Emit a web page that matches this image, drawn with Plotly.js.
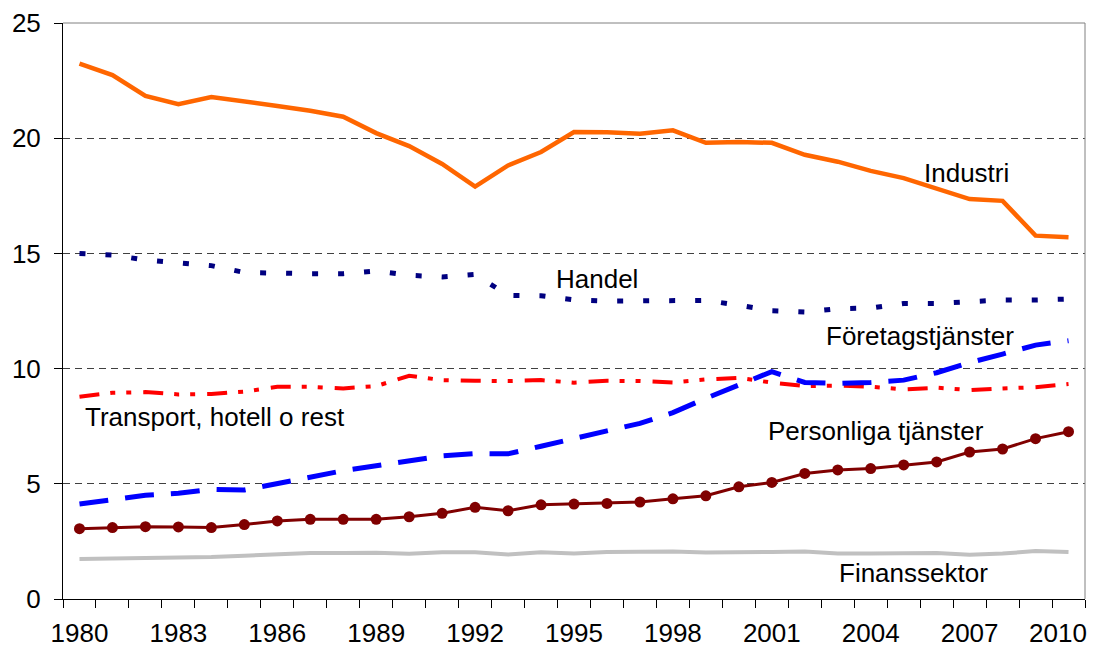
<!DOCTYPE html>
<html>
<head>
<meta charset="utf-8">
<script src="https://cdn.plot.ly/plotly-3.0.1.min.js"></script>
<style>html,body{margin:0;padding:0;background:#fff;}#chart{width:1094px;height:649px;}</style>
</head>
<body>
<div id="chart"></div>
<script>
const years = [1980,1981,1982,1983,1984,1985,1986,1987,1988,1989,1990,1991,1992,1993,1994,1995,1996,1997,1998,1999,2000,2001,2002,2003,2004,2005,2006,2007,2008,2009,2010];
const tickYears = [1980,1983,1986,1989,1992,1995,1998,2001,2004,2007,2010];
const industri = [23.24,22.74,21.84,21.48,21.79,21.61,21.40,21.19,20.93,20.22,19.66,18.88,17.90,18.82,19.40,20.27,20.26,20.19,20.34,19.80,19.83,19.80,19.28,18.98,18.58,18.27,17.79,17.36,17.28,15.77,15.70];
const handel = [15.00,14.93,14.71,14.57,14.47,14.17,14.12,14.12,14.12,14.24,14.05,13.98,14.09,13.18,13.16,12.98,12.93,12.93,12.93,12.96,12.75,12.51,12.46,12.60,12.63,12.83,12.83,12.90,12.98,12.98,13.02];
const transport = [8.78,8.95,8.98,8.88,8.90,9.00,9.21,9.21,9.14,9.24,9.69,9.50,9.47,9.46,9.50,9.39,9.47,9.46,9.40,9.53,9.60,9.39,9.24,9.26,9.21,9.10,9.17,9.07,9.14,9.19,9.33];
const foretag = [4.12,4.30,4.50,4.59,4.76,4.73,5.02,5.33,5.57,5.78,6.02,6.21,6.31,6.30,6.63,6.98,7.30,7.62,8.09,8.71,9.30,9.87,9.40,9.36,9.40,9.50,9.82,10.26,10.63,11.02,11.21];
const personliga = [3.05,3.10,3.14,3.13,3.10,3.23,3.39,3.46,3.46,3.46,3.57,3.72,3.98,3.83,4.09,4.12,4.15,4.21,4.35,4.48,4.87,5.06,5.45,5.60,5.66,5.82,5.95,6.38,6.51,6.96,7.26];
const finans = [1.74,1.76,1.77,1.79,1.82,1.88,1.96,2.00,2.00,2.01,1.96,2.03,2.03,1.93,2.03,1.98,2.04,2.06,2.06,2.02,2.05,2.04,2.06,1.97,1.97,1.97,2.00,1.92,1.97,2.08,2.04];

const labels = [
  {text:'Industri', x:2006.9, y:18.5},
  {text:'Handel', x:1995.7, y:13.9},
  {text:'Företagstjänster', x:2005.5, y:11.4},
  {text:'Transport, hotell o rest', x:1984.1, y:7.9},
  {text:'Personliga tjänster', x:2004.15, y:7.3},
  {text:'Finanssektor', x:2005.3, y:1.15}
];

const FONT = 'Liberation Sans, Arial, sans-serif';
const TICKSIZE = 26;

const traces = [
  {x:years, y:finans, mode:'lines', line:{color:'#C0C0C0', width:4}},
  {x:years, y:personliga, mode:'lines+markers', line:{color:'#800000', width:3}, marker:{symbol:'circle', size:11, color:'#800000'}},
  {x:years, y:transport, mode:'lines', line:{color:'#FF0000', width:4, dash:'20px,11px,5px,11px,5px,12px'}},
  {x:years, y:foretag, mode:'lines', line:{color:'#0000FF', width:5, dash:'29px,17px'}},
  {x:years, y:handel, mode:'lines', line:{color:'#000080', width:5, dash:'6px,20px'}},
  {x:years, y:industri, mode:'lines', line:{color:'#FF6600', width:4.5}}
];

const lastYear = tickYears[tickYears.length - 1];
const annots = labels.map(l => ({
  text:l.text, x:l.x, y:l.y, xref:'x', yref:'y', showarrow:false,
  xanchor:'center', yanchor:'middle', font:{family:FONT, size:26, color:'#000'}
}));
// last tick label drawn as an annotation so it stays inside the picture
annots.push({
  text:String(lastYear), x:1, xref:'paper', y:0, yref:'paper', yshift:-34,
  xanchor:'right', yanchor:'middle', xshift:4, showarrow:false,
  font:{family:FONT, size:TICKSIZE, color:'#000'}
});

const layout = {
  width:1094, height:649,
  margin:{l:63, r:9, t:23, b:50, pad:0},
  paper_bgcolor:'#fff', plot_bgcolor:'#fff',
  showlegend:false,
  font:{family:FONT, color:'#000', size:26},
  xaxis:{
    range:[1979.5, 2010.5], tickmode:'array', tickvals:tickYears.slice(0,-1), ticktext:tickYears.slice(0,-1).map(String),
    ticks:'', showgrid:false, zeroline:false, showline:true, linecolor:'#000', linewidth:1,
    tickfont:{family:FONT, size:TICKSIZE, color:'#000'}, ticklabelstandoff:11,
    minor:{tickmode:'array', tickvals:years.map(y => y - 0.5).concat([2010.5]), ticks:'outside', ticklen:8, tickcolor:'#000', tickwidth:1, showgrid:false}
  },
  yaxis:{
    range:[0,25], tickmode:'array', tickvals:[0,5,10,15,20,25],
    ticks:'outside', ticklen:8, tickcolor:'#000', tickwidth:1,
    showgrid:true, gridcolor:'#404040', gridwidth:1, griddash:'7px,5px',
    zeroline:false, showline:true, linecolor:'#000', linewidth:1,
    tickfont:{family:FONT, size:TICKSIZE, color:'#000'}, ticklabelstandoff:8
  },
  shapes:[
    {type:'line', xref:'paper', yref:'paper', x0:0, x1:1, y0:1, y1:1, line:{color:'#808080', width:1}, layer:'above'},
    {type:'line', xref:'paper', yref:'paper', x0:1, x1:1, y0:0, y1:1, line:{color:'#808080', width:1}, layer:'above'}
  ],
  annotations: annots
};

Plotly.newPlot('chart', traces, layout, {staticPlot:true, displayModeBar:false});
</script>
</body>
</html>
